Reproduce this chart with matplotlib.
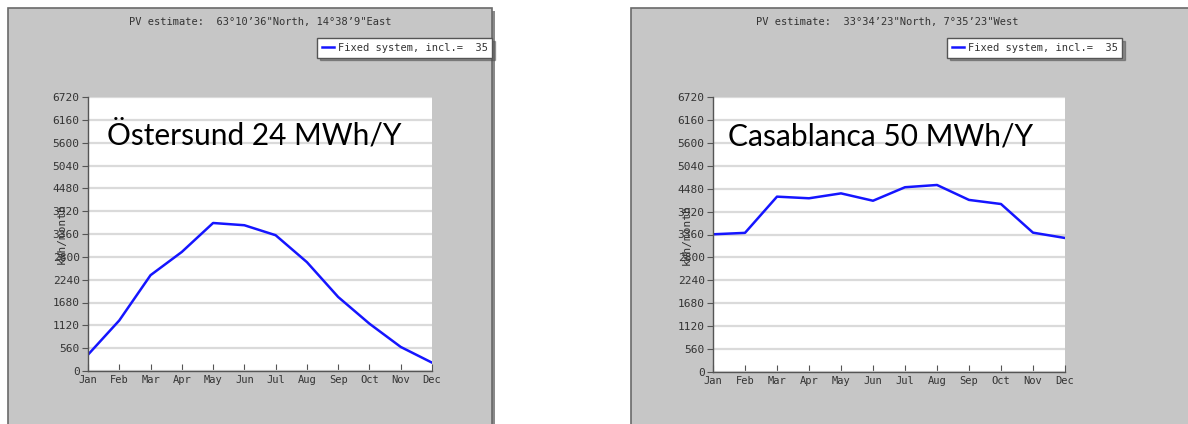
import matplotlib.pyplot as plt
from matplotlib.patches import Rectangle

# monthly PV output, kWh/month
months = ['Jan', 'Feb', 'Mar', 'Apr', 'May', 'Jun',
          'Jul', 'Aug', 'Sep', 'Oct', 'Nov', 'Dec']
ostersund = [400, 1240, 2350, 2920, 3630, 3575, 3330, 2670, 1815, 1160, 590, 205]
casablanca = [3365, 3400, 4285, 4245, 4365, 4185, 4515, 4570, 4205, 4105, 3405, 3275]

titles = ['PV estimate:  63\u00b010\u201936"North, 14\u00b038\u20199"East',
          'PV estimate:  33\u00b034\u201923"North, 7\u00b035\u201923"West']
big_labels = ['\u00d6stersund 24 MWh/Y', 'Casablanca 50 MWh/Y']
series = [ostersund, casablanca]
yticks = list(range(0, 6721, 560))

W, H = 1188, 424
fig = plt.figure(figsize=(W / 100, H / 100), dpi=100)
fig.patch.set_facecolor('white')

def fx(px):
    return px / W

def fy(py):
    return 1 - py / H

# gray panel boxes (pixel coords: left, top, right)
panels = [(8, 8, 492), (631, 8, 1200)]
axes_px = [(88, 97, 432, 371), (713, 97, 1065, 372)]
legend_px = [(312, 33), (942, 33)]
title_x = [260, 887]
text_x = [0.055, 0.043]

for i in range(2):
    l, t, r = panels[i]
    # shadow
    fig.patches.append(Rectangle((fx(l + 3), fy(H + 20)), fx(r - l), fy(t + 3) - fy(H + 20),
                                 transform=fig.transFigure, facecolor='#8a8a8a',
                                 edgecolor='none', zorder=-20))
    fig.patches.append(Rectangle((fx(l), fy(H + 20)), fx(r - l), fy(t) - fy(H + 20),
                                 transform=fig.transFigure, facecolor='#c6c6c6',
                                 edgecolor='#6a6a6a', linewidth=1.2, zorder=-10))

    x0, y0, x1, y1 = axes_px[i]
    ax = fig.add_axes([fx(x0), fy(y1), fx(x1 - x0), fy(y0) - fy(y1)])
    ax.set_facecolor('white')
    line, = ax.plot(range(12), series[i], color='#1515ff', linewidth=1.8,
                    label='Fixed system, incl.=  35')
    ax.set_xlim(0, 11)
    ax.set_ylim(0, 6720)
    ax.set_yticks(yticks)
    ax.set_xticks(range(12))
    ax.set_xticklabels(months)
    ax.grid(axis='y', color='#dadada', linewidth=1.6)
    ax.set_axisbelow(True)
    for s in ['top', 'right']:
        ax.spines[s].set_visible(False)
    for s in ['left', 'bottom']:
        ax.spines[s].set_color('#555555')
        ax.spines[s].set_linewidth(1.0)
    ax.tick_params(axis='y', direction='out', length=4, color='#555555',
                   labelsize=8, labelcolor='#333333', pad=2)
    ax.tick_params(axis='x', direction='in', length=5, color='#555555',
                   labelsize=7.5, labelcolor='#333333', pad=3)
    for lab in ax.get_xticklabels() + ax.get_yticklabels():
        lab.set_family('DejaVu Sans Mono')
    ax.set_ylabel('kWh/month', fontsize=8, family='DejaVu Sans Mono',
                  color='#333333', labelpad=-10)

    ax.text(text_x[i], 0.825, big_labels[i], transform=ax.transAxes,
            fontsize=21.5, family='Lato', color='black', va='baseline')

    fig.text(fx(title_x[i]), fy(22), titles[i], ha='center', va='center',
             fontsize=7.5, family='DejaVu Sans Mono', color='#333333')

    lx, ly = legend_px[i]
    leg = ax.legend(handles=[line], loc='upper left',
                    bbox_to_anchor=(fx(lx), fy(ly)), bbox_transform=fig.transFigure,
                    fancybox=False, shadow=True, edgecolor='#555555', framealpha=1,
                    handlelength=1.2, handletextpad=0.3, borderpad=0.45,
                    prop={'family': 'DejaVu Sans Mono', 'size': 7.5})
    leg.get_frame().set_linewidth(1.0)
    for txt in leg.get_texts():
        txt.set_color('#333333')

fig.savefig('out.png', dpi=100)
